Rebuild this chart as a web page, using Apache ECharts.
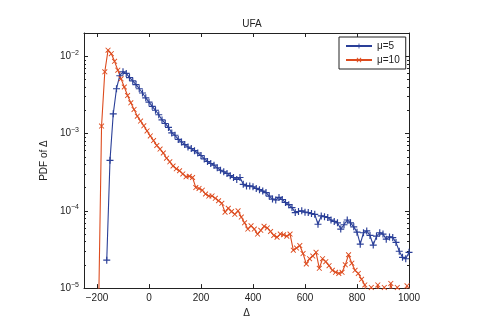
<!DOCTYPE html>
<html>
<head>
<meta charset="utf-8">
<script src="https://cdn.jsdelivr.net/npm/echarts@6/dist/echarts.min.js"></script>
<style>
  html, body { margin: 0; padding: 0; background: #fff; }
  #chart { width: 479px; height: 323px; }
</style>
</head>
<body>
<div id="chart"></div>
<script>
// bin centres and PDF values
const xMu5 = [
  -162.5, -150, -137.5, -125, -112.5, -100, -87.5, -75, -62.5, -50, -37.5, -25, -12.5,
  0, 12.5, 25, 37.5, 50, 62.5, 75, 87.5, 100, 112.5, 125, 137.5, 150, 162.5, 175, 187.5,
  200, 212.5, 225, 237.5, 250, 262.5, 275, 287.5, 300, 312.5, 325, 337.5, 350, 362.5, 375, 387.5,
  400, 412.5, 425, 437.5, 450, 462.5, 475, 487.5, 500, 512.5, 525, 537.5, 550, 562.5, 575, 587.5,
  600, 612.5, 625, 637.5, 650, 662.5, 675, 687.5, 700, 712.5, 725, 737.5, 750, 762.5, 775, 787.5,
  800, 812.5, 825, 837.5, 850, 862.5, 875, 887.5, 900, 912.5, 925, 937.5, 950, 962.5, 975, 987.5,
  1000
];
const pdfMu5 = [
  2.3e-5, 4.5e-4, 1.8e-3, 3.8e-3, 5.6e-3, 6.3e-3, 6.0e-3, 5.3e-3, 4.8e-3, 4.3e-3, 3.8e-3, 3.35e-3, 2.9e-3,
  2.55e-3, 2.25e-3, 2.0e-3, 1.75e-3, 1.5e-3, 1.35e-3, 1.2e-3, 1.02e-3, 9.5e-4, 8.4e-4, 7.8e-4, 7.2e-4, 6.7e-4, 6.4e-4, 6.0e-4, 5.6e-4,
  5.2e-4, 4.7e-4, 4.35e-4, 4.1e-4, 3.9e-4, 3.6e-4, 3.35e-4, 3.2e-4, 3.05e-4, 2.85e-4, 2.7e-4, 2.55e-4, 2.7e-4, 2.2e-4, 2.1e-4, 2.1e-4,
  2.05e-4, 1.95e-4, 1.88e-4, 1.8e-4, 1.72e-4, 1.55e-4, 1.42e-4, 1.38e-4, 1.49e-4, 1.4e-4, 1.28e-4, 1.2e-4, 1.1e-4, 9.5e-5, 9.8e-5, 1.0e-4,
  9.6e-5, 9.5e-5, 9.2e-5, 9.0e-5, 6.7e-5, 8.6e-5, 8.4e-5, 8.2e-5, 7.6e-5, 7.3e-5, 7.0e-5, 5.8e-5, 6.6e-5, 7.6e-5, 7.0e-5, 6.2e-5,
  5.3e-5, 3.7e-5, 5.2e-5, 5.5e-5, 4.8e-5, 3.6e-5, 4.7e-5, 5.2e-5, 5.0e-5, 4.3e-5, 4.6e-5, 4.5e-5, 3.9e-5, 3.0e-5, 2.5e-5, 2.4e-5,
  2.9e-5
];

const xMu10 = [
  -195, -182.5, -170, -157.5, -145, -132.5, -120, -107.5, -95, -82.5, -70, -57.5, -45, -32.5, -20, -7.5,
  5, 17.5, 30, 42.5, 55, 67.5, 80, 92.5, 105, 117.5, 130, 142.5, 155, 167.5, 180, 192.5,
  205, 217.5, 230, 242.5, 255, 267.5, 280, 292.5, 305, 317.5, 330, 342.5, 355, 367.5, 380, 392.5,
  405, 417.5, 430, 442.5, 455, 467.5, 480, 492.5, 505, 517.5, 530, 542.5, 555, 567.5, 580, 592.5,
  605, 617.5, 630, 642.5, 655, 667.5, 680, 692.5, 705, 717.5, 730, 742.5, 755, 767.5, 780, 792.5,
  805, 817.5, 830, 842.5, 855, 867.5, 880, 892.5, 905, 917.5, 930, 942.5, 955, 967.5, 980, 992.5
];
const pdfMu10 = [
  3e-6, 1.25e-3, 6.3e-3, 1.2e-2, 1.08e-2, 8.6e-3, 6.6e-3, 5.1e-3, 4.0e-3, 3.1e-3, 2.5e-3, 2.05e-3, 1.68e-3, 1.45e-3, 1.26e-3, 1.08e-3,
  9.3e-4, 8.1e-4, 7.0e-4, 6.3e-4, 5.6e-4, 4.8e-4, 4.3e-4, 3.8e-4, 3.5e-4, 3.3e-4, 3.0e-4, 2.75e-4, 2.8e-4, 2.7e-4, 2.0e-4, 1.95e-4,
  1.85e-4, 1.65e-4, 1.55e-4, 1.56e-4, 1.45e-4, 1.35e-4, 1.25e-4, 9.6e-5, 1.08e-4, 9.8e-5, 9.0e-5, 1.0e-4, 8.3e-5, 7.0e-5, 5.8e-5, 6.4e-5,
  5.8e-5, 5.0e-5, 5.6e-5, 6.3e-5, 6.0e-5, 5.4e-5, 4.8e-5, 4.55e-5, 5.0e-5, 4.9e-5, 4.7e-5, 5.0e-5, 3.1e-5, 3.3e-5, 3.55e-5, 2.8e-5,
  2.05e-5, 2.4e-5, 2.6e-5, 2.9e-5, 1.8e-5, 2.4e-5, 2.2e-5, 1.95e-5, 1.7e-5, 1.6e-5, 1.55e-5, 1.6e-5, 2.0e-5, 2.7e-5, 2.1e-5, 1.7e-5,
  1.55e-5, 1.3e-5, 1.1e-5, 6e-6, 1.02e-5, 7e-6, 1.1e-5, 7e-6, 1.02e-5, 6e-6, 1.15e-5, 7e-6, 1.02e-5, 6e-6, 5e-6, 1.07e-5
];

const xTicks = [-200, 0, 200, 400, 600, 800, 1000];
const seriesNames = ['\u03bc=5', '\u03bc=10'];

const FONT = '"Liberation Sans", Arial, sans-serif';
const INK = '#222';
const BLUE = '#2a3f98';
const RED = '#dd4b1e';

// marker shapes: '+' and 'x' built from filled bars
const PLUS = 'path://M0,5h12v2H0z M5,0h2v12H5z';
const CROSS = 'path://M0,1.4L1.4,0L12,10.6L10.6,12Z M10.6,0L12,1.4L1.4,12L0,10.6Z';

function pairs(xs, ys) {
  return xs.map((x, i) => [x, ys[i]]);
}

function fmtX(v) {
  return v < 0 ? '\u2212' + Math.abs(v) : String(v);
}

function fmtLog(v) {
  const e = Math.log10(v);
  if (Math.abs(e - Math.round(e)) > 1e-6) return '';
  const n = Math.round(e);
  return '{b|10}{s|' + (n < 0 ? '\u2212' + Math.abs(n) : n) + '}';
}

const chart = echarts.init(document.getElementById('chart'), null, { renderer: 'canvas' });

const frameLine = { show: true, onZero: false, lineStyle: { color: INK, width: 1 } };
const tickIn = { show: true, inside: true, length: 4, lineStyle: { color: INK, width: 1 } };

chart.setOption({
  animation: false,
  backgroundColor: '#fff',
  textStyle: { fontFamily: FONT },
  title: {
    text: 'UFA',
    left: 247,
    top: 14,
    textAlign: 'center',
    textStyle: { fontFamily: FONT, fontSize: 10, fontWeight: 'normal', color: INK }
  },
  legend: {
    orient: 'vertical',
    left: 339,
    top: 37,
    padding: [4, 6, 4, 6],
    itemGap: 4,
    itemWidth: 26,
    itemHeight: 6,
    borderColor: INK,
    borderWidth: 1,
    backgroundColor: '#fff',
    textStyle: { fontFamily: FONT, fontSize: 10, color: INK },
    data: seriesNames
  },
  grid: { left: 84, right: 70, top: 33, bottom: 34, containLabel: false },
  xAxis: [
    {
      type: 'value',
      min: -250,
      max: 1000,
      name: '\u0394',
      nameLocation: 'middle',
      nameGap: 18,
      nameTextStyle: { fontFamily: FONT, fontSize: 10, color: INK },
      axisLine: frameLine,
      axisTick: Object.assign({ customValues: xTicks }, tickIn),
      axisLabel: { customValues: xTicks, formatter: fmtX, fontFamily: FONT, fontSize: 10, color: INK, margin: 5 },
      splitLine: { show: false }
    },
    {
      type: 'value',
      position: 'top',
      min: -250,
      max: 1000,
      axisLine: frameLine,
      axisTick: Object.assign({ customValues: xTicks }, tickIn),
      axisLabel: { show: false },
      splitLine: { show: false }
    }
  ],
  yAxis: [
    {
      type: 'log',
      logBase: 10,
      min: 1e-5,
      max: 0.02,
      name: 'PDF of \u0394',
      nameLocation: 'middle',
      nameGap: 29,
      nameTextStyle: { fontFamily: FONT, fontSize: 10, color: INK },
      axisLine: frameLine,
      axisTick: tickIn,
      minorTick: { show: true, splitNumber: 9, length: 2, lineStyle: { color: INK } },
      axisLabel: {
        formatter: fmtLog,
        margin: 5,
        color: INK,
        rich: {
          b: { fontFamily: FONT, fontSize: 10, color: INK },
          s: { fontFamily: FONT, fontSize: 7, color: INK, padding: [0, 0, 7, 0] }
        }
      },
      splitLine: { show: false }
    },
    {
      type: 'log',
      logBase: 10,
      position: 'right',
      min: 1e-5,
      max: 0.02,
      axisLine: frameLine,
      axisTick: tickIn,
      minorTick: { show: true, splitNumber: 9, length: 2, lineStyle: { color: INK } },
      axisLabel: { show: false },
      splitLine: { show: false }
    }
  ],
  series: [
    {
      name: seriesNames[0],
      type: 'line',
      data: pairs(xMu5, pdfMu5),
      clip: true,
      symbol: PLUS,
      symbolSize: 7,
      showAllSymbol: true,
      lineStyle: { color: BLUE, width: 1.1 },
      itemStyle: { color: BLUE },
      emphasis: { disabled: true }
    },
    {
      name: seriesNames[1],
      type: 'line',
      data: pairs(xMu10, pdfMu10),
      clip: true,
      symbol: CROSS,
      symbolSize: 5.5,
      showAllSymbol: true,
      lineStyle: { color: RED, width: 1.1 },
      itemStyle: { color: RED },
      emphasis: { disabled: true }
    }
  ]
});
</script>
</body>
</html>
